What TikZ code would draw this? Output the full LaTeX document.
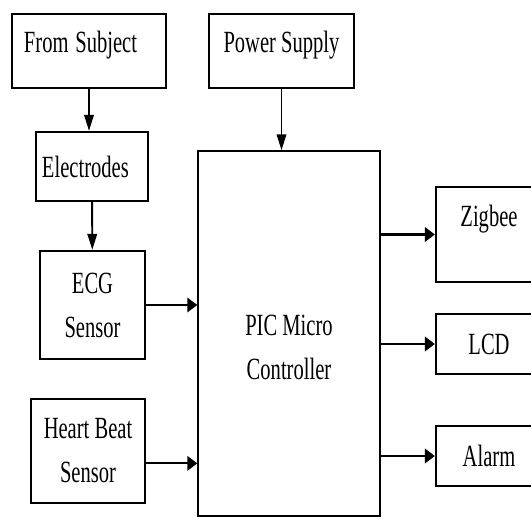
\documentclass[tikz,border=0pt]{standalone}
\usepackage{fontspec}
\setmainfont{Liberation Serif}
\newfontfamily\diagfont{Liberation Serif}
\usepackage{graphicx}
\usetikzlibrary{positioning,arrows.meta}
\newcommand{\vtxt}[1]{\scalebox{1}[1.5]{#1}}

\begin{document}
\begin{tikzpicture}[
  font=\diagfont\fontsize{11.7}{25}\selectfont,
  block/.style={draw, line width=1.3pt, align=center, inner sep=0pt},
  core/.style={draw, line width=0.8pt, inner sep=0pt},
  downarr/.style={-{Triangle[length=0.32cm,width=0.19cm]}, line width=1.1pt},
  rightarr/.style={-{Triangle[length=0.2cm,width=0.29cm]}, line width=1.2pt}
]
\useasboundingbox (0,0) rectangle (10.62,-10.36);
\clip (0,0) rectangle (10.62,-10.36);

\node[block, minimum width=3.08cm, minimum height=1.48cm, text width=2.60cm, align=left, inner xsep=0.24cm] (subject) at (1.78,-1.02) {\raisebox{0.12cm}[\height][\depth]{\vtxt{From Subject}}};
\node[block, minimum width=2.90cm, minimum height=1.48cm] (power) at (5.63,-1.02) {\raisebox{0.12cm}[\height][\depth]{\vtxt{Power Supply}}};
\node[block, minimum width=2.24cm, minimum height=1.38cm, text width=2.0cm, align=left, inner xsep=0.12cm] (electrodes) at (1.84,-3.33) {\vtxt{Electrodes}};
\node[block, minimum width=2.10cm, minimum height=2.16cm] (ecg) at (1.85,-6.10) {\vtxt{ECG}\\\vtxt{Sensor}};
\node[block, minimum width=2.28cm, minimum height=2.08cm] (heart) at (1.76,-9.02) {\vtxt{Heart Beat}\\\vtxt{Sensor}};

\node[core, minimum width=3.64cm, minimum height=7.30cm] (pic) at (5.78,-6.67) {\raisebox{-0.31cm}[\height][\depth]{\begin{tabular}{@{}c@{}}\vtxt{PIC Micro}\\\vtxt{Controller}\end{tabular}}};

\node[block, minimum width=2.12cm, minimum height=1.90cm] (zigbee) at (9.78,-4.69) {\raisebox{0.30cm}[\height][\depth]{\vtxt{Zigbee}}};
\node[block, minimum width=2.12cm, minimum height=1.20cm] (lcd) at (9.78,-6.88) {\vtxt{LCD}};
\node[block, minimum width=2.12cm, minimum height=1.20cm] (alarm) at (9.78,-9.12) {\vtxt{Alarm}};

\draw[downarr] (subject.south) -- (subject.south |- electrodes.north);
\draw[downarr] (electrodes) -- (ecg);
\draw[downarr] (power.south) -- (power.south |- pic.north);
\draw[rightarr] (ecg.east) -- (ecg.east -| pic.west);
\draw[rightarr] (heart.-12) -- (heart.-12 -| pic.west);
\draw[rightarr] (pic.east |- zigbee) -- (zigbee);
\draw[rightarr] (pic.east |- lcd) -- (lcd);
\draw[rightarr] (pic.east |- alarm) -- (alarm);
\end{tikzpicture}
\end{document}
